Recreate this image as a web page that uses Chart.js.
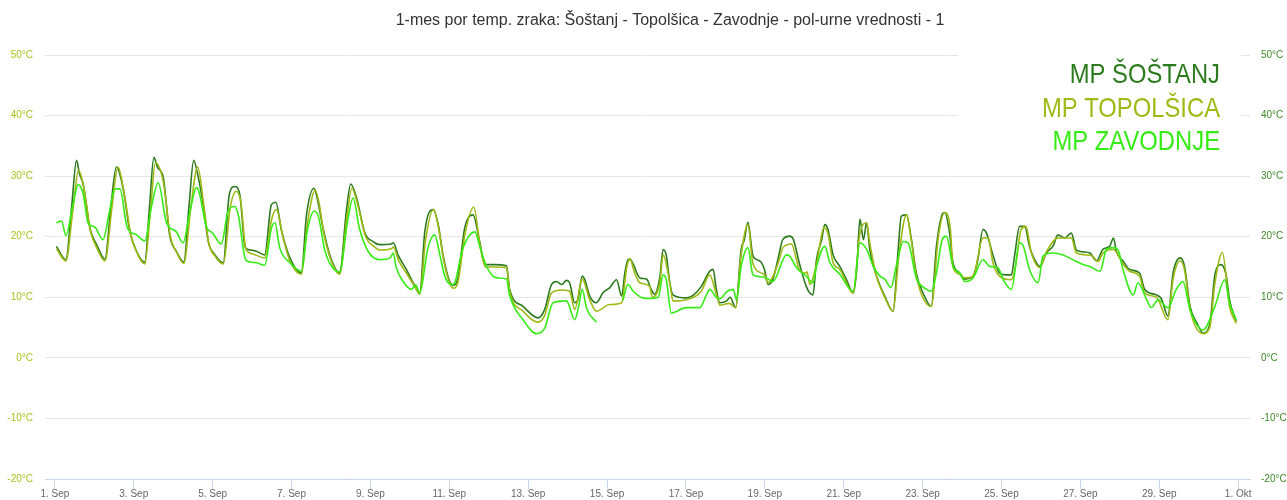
<!DOCTYPE html>
<html><head><meta charset="utf-8">
<script src="https://cdn.jsdelivr.net/npm/chart.js@4/dist/chart.umd.min.js"></script>
<style>html,body{margin:0;padding:0;background:#fff;}#wrap{width:1287px;height:500px;position:relative;}</style>
</head><body><div id="wrap"><canvas id="c" width="1287" height="500"></canvas></div>
<script>
const chartTitle = '1-mes por temp. zraka: Šoštanj - Topolšica - Zavodnje - pol-urne vrednosti - 1';
const seriesNames = ['MP ŠOŠTANJ', 'MP TOPOLŠICA', 'MP ZAVODNJE'];
const seriesColors = ['#2c7a1e', '#9fba14', '#35ec14'];
const xTickDays = [0, 2, 4, 6, 8, 10, 12, 14, 16, 18, 20, 22, 24, 26, 28, 30];
const xTickLabels = ['1. Sep', '3. Sep', '5. Sep', '7. Sep', '9. Sep', '11. Sep', '13. Sep', '15. Sep', '17. Sep', '19. Sep', '21. Sep', '23. Sep', '25. Sep', '27. Sep', '29. Sep', '1. Okt'];
const yTicks = [-20, -10, 0, 10, 20, 30, 40, 50];

// [day since 1. Sep 00:00, °C]
const sostanj = [[0.04,18.4],[0.28,16.2],[0.42,24.5],[0.55,32.6],[0.62,30.5],[0.72,28.6],[0.89,21.4],[1.06,18.7],[1.27,16.3],[1.42,25],[1.56,31.5],[1.73,28.0],[1.9,20.9],[2.07,17.6],[2.28,15.8],[2.4,25],[2.51,33.1],[2.6,31.5],[2.75,29.7],[2.91,20.3],[3.08,17.6],[3.27,15.8],[3.4,25],[3.52,32.6],[3.63,30.0],[3.76,25.3],[3.89,19.2],[4.06,17.0],[4.27,15.7],[4.42,26.9],[4.56,28.3],[4.69,26.9],[4.82,18.4],[4.9,17.9],[5.11,17.6],[5.32,17.0],[5.49,25.3],[5.6,25.7],[5.75,20.9],[5.96,16.5],[6.25,14.0],[6.38,23.6],[6.57,28.0],[6.65,26.4],[6.8,21.4],[6.97,17.0],[7.22,14.0],[7.39,24.2],[7.5,28.7],[7.65,26.4],[7.86,20.6],[8.07,19.2],[8.24,18.7],[8.53,18.8],[8.58,19.0],[8.7,17.0],[8.91,14.6],[9.13,11.8],[9.25,10.7],[9.38,20.9],[9.59,24.5],[9.72,22.0],[9.84,17.0],[10.01,12.6],[10.1,12.0],[10.22,13.2],[10.39,21.4],[10.6,23.6],[10.77,19.2],[10.9,15.4],[11.15,15.4],[11.45,15.2],[11.53,11.3],[11.87,8.5],[12.25,6.6],[12.42,8.0],[12.59,12.1],[12.72,12.6],[12.85,12.1],[12.97,12.8],[13.05,12.4],[13.18,9.1],[13.26,9.6],[13.37,13.5],[13.43,13.0],[13.56,10.2],[13.73,9.1],[13.9,10.8],[14.07,11.6],[14.24,12.9],[14.37,10.2],[14.45,14.0],[14.53,16.2],[14.58,16.3],[14.66,15.5],[14.83,13.2],[15.0,13.0],[15.12,11.3],[15.2,10.5],[15.34,13.4],[15.42,17.9],[15.5,17.0],[15.59,12.4],[15.67,10.4],[16.01,9.9],[16.18,10.3],[16.39,11.8],[16.6,14.3],[16.69,14.6],[16.77,11.3],[16.86,9.1],[17.03,9.4],[17.12,10.0],[17.26,8.3],[17.4,17.9],[17.48,19.5],[17.57,22.4],[17.7,16.8],[17.87,16.0],[17.99,14.6],[18.08,12.1],[18.2,12.9],[18.33,16.2],[18.46,19.6],[18.63,20.1],[18.72,19.6],[18.88,15.5],[19.05,11.8],[19.14,10.7],[19.22,10.4],[19.31,16.2],[19.44,19.5],[19.52,22.0],[19.6,21.2],[19.73,17.0],[19.9,15.1],[20.07,12.9],[20.24,10.7],[20.33,14.6],[20.41,22.9],[20.5,19.5],[20.58,22.3],[20.66,17.9],[20.83,13.5],[21.04,10.2],[21.25,7.7],[21.38,17.9],[21.46,23.4],[21.59,23.6],[21.71,19.8],[21.84,14.0],[22.01,10.7],[22.22,8.5],[22.35,18.4],[22.48,23.4],[22.56,24.0],[22.67,21.2],[22.77,15.7],[22.94,14.0],[23.07,13.0],[23.28,13.5],[23.4,16.2],[23.53,21.2],[23.62,20.6],[23.79,16.8],[23.95,14.0],[24.12,13.7],[24.25,13.7],[24.33,16.8],[24.46,21.7],[24.59,21.7],[24.71,18.4],[24.84,16.2],[24.97,15.1],[25.14,17.3],[25.31,18.5],[25.43,20.3],[25.6,19.8],[25.77,20.6],[25.9,17.8],[26.07,17.5],[26.24,17.3],[26.41,16.0],[26.57,17.9],[26.74,18.4],[26.84,19.8],[26.91,17.6],[27.08,16.0],[27.25,14.6],[27.5,14.0],[27.63,11.3],[27.93,10.4],[28.05,9.8],[28.22,6.9],[28.35,14.0],[28.53,16.5],[28.64,15.1],[28.78,8.5],[28.95,5.8],[29.11,4.1],[29.28,5.5],[29.41,13.7],[29.57,15.4],[29.7,13.5],[29.78,9.6],[29.95,6.0]];

const topolsica = [[0.04,18.0],[0.28,16.0],[0.45,24],[0.6,31.0],[0.75,27.5],[0.9,21.0],[1.06,18.2],[1.27,16.0],[1.45,25],[1.6,31.5],[1.75,27.5],[1.92,20.5],[2.07,17.5],[2.28,15.5],[2.42,24],[2.55,32.2],[2.75,29],[2.93,20.0],[3.08,17.5],[3.27,15.6],[3.45,25],[3.62,31.5],[3.78,25],[3.9,19.0],[4.06,16.8],[4.27,15.5],[4.45,25],[4.6,27.5],[4.72,25.5],[4.84,18.0],[5.0,17.2],[5.32,16.5],[5.5,23],[5.62,24.5],[5.78,20.0],[5.96,16.0],[6.25,13.8],[6.4,22],[6.6,27.7],[6.7,25.5],[6.82,20.5],[6.98,16.5],[7.22,13.8],[7.4,23],[7.53,28.0],[7.67,25.5],[7.88,20.0],[8.07,18.5],[8.24,17.8],[8.53,18.0],[8.58,18.3],[8.72,16.0],[8.93,13.8],[9.15,11.5],[9.25,10.5],[9.4,19.5],[9.6,24.5],[9.74,21.0],[9.86,16.0],[10.03,12.0],[10.12,11.5],[10.22,12.5],[10.4,20.5],[10.62,24.9],[10.78,18.5],[10.92,15.0],[11.15,15.0],[11.45,14.9],[11.53,11.0],[11.87,7.7],[12.25,5.9],[12.42,7.0],[12.59,10.7],[12.85,11.2],[13.05,11.0],[13.18,8.0],[13.37,13.0],[13.56,9.6],[13.73,7.7],[14.07,8.8],[14.37,9.1],[14.5,15],[14.58,16.3],[14.7,14],[14.83,12.4],[15.08,11.8],[15.15,10.0],[15.34,12.5],[15.42,17.0],[15.6,12],[15.67,9.4],[16.01,9.6],[16.39,11.0],[16.6,13.7],[16.77,10.5],[16.86,8.7],[17.1,9.0],[17.26,8.3],[17.4,17],[17.57,22.0],[17.7,15.5],[17.99,13.7],[18.08,12.4],[18.33,15.5],[18.46,18.2],[18.67,18.8],[18.88,14.5],[19.05,14.0],[19.07,14.2],[19.14,12.1],[19.31,15.5],[19.5,21.5],[19.6,20.5],[19.73,15.7],[19.9,14.6],[20.24,10.7],[20.41,20.5],[20.58,22.3],[20.66,19.0],[20.83,13.5],[21.04,10.0],[21.25,7.7],[21.4,17],[21.59,23.6],[21.71,19.5],[21.84,13.5],[22.22,8.5],[22.4,20],[22.56,24.0],[22.7,21.5],[22.77,15.0],[22.94,13.8],[23.07,13.2],[23.28,13.5],[23.53,19.8],[23.66,19.8],[23.79,15.5],[23.95,13.5],[24.25,12.9],[24.35,15],[24.5,21.2],[24.62,21.7],[24.75,17.5],[24.97,14.9],[25.14,17.5],[25.43,19.8],[25.77,19.8],[25.9,17.3],[26.28,16.9],[26.45,15.9],[26.57,17.3],[26.84,17.9],[27.08,15.5],[27.25,14.3],[27.5,13.5],[27.63,10.7],[27.93,10.0],[28.22,6.3],[28.35,13],[28.53,16.0],[28.64,14.5],[28.78,8.0],[29.11,4.0],[29.28,5.0],[29.41,12.3],[29.6,17.4],[29.78,8.5],[29.95,5.7]];

const zavodnje = [[0.04,22.3],[0.17,22.6],[0.28,20.2],[0.45,25],[0.59,28.6],[0.72,27.0],[0.84,22.3],[1.01,21.6],[1.22,19.5],[1.38,24],[1.52,27.9],[1.65,27.9],[1.83,21.6],[2.07,20.3],[2.28,19.3],[2.45,25],[2.62,28.9],[2.83,22.3],[3.08,20.8],[3.25,19.0],[3.42,24],[3.59,28.1],[3.65,27.5],[3.84,21.7],[4.0,20.6],[4.22,18.8],[4.39,24.2],[4.56,25.0],[4.65,23.6],[4.82,16.5],[4.9,15.9],[5.11,15.7],[5.32,15.3],[5.49,21.4],[5.58,22.3],[5.7,18.2],[5.96,15.7],[6.25,14.3],[6.4,21],[6.57,24.2],[6.68,23.4],[6.85,17.6],[7.22,14.2],[7.42,22.5],[7.56,26.4],[7.72,21.4],[7.94,17.6],[8.24,16.2],[8.5,16.5],[8.58,17.3],[8.65,15],[8.83,12.6],[9.04,11.3],[9.15,12.0],[9.25,10.7],[9.46,18.2],[9.63,20.3],[9.76,17.0],[9.9,13.2],[10.1,12.1],[10.35,18.2],[10.65,20.8],[10.78,18.2],[10.95,15.0],[11.2,13.2],[11.45,13.0],[11.53,10.3],[11.87,6.3],[12.21,4.0],[12.42,4.9],[12.63,9.1],[12.97,9.4],[13.18,6.3],[13.28,8.5],[13.37,11.3],[13.48,8.2],[13.73,5.9],[13.9,null],[14.4,9.5],[14.53,12.1],[14.66,11.0],[14.91,9.9],[15.08,9.8],[15.3,10.0],[15.42,13.7],[15.5,12.9],[15.63,7.4],[16.01,8.3],[16.35,8.3],[16.52,10.4],[16.6,11.3],[16.77,10.0],[16.86,9.8],[17.05,11.0],[17.2,11.3],[17.28,9.6],[17.4,15.1],[17.57,18.2],[17.7,13.7],[17.87,13.4],[18.04,13.2],[18.2,12.6],[18.55,17.0],[18.63,16.8],[18.8,14.9],[19.05,13.5],[19.22,12.4],[19.31,15.1],[19.52,18.4],[19.65,15.7],[19.9,13.8],[20.24,11.0],[20.41,19.0],[20.58,17.9],[20.75,15.1],[20.92,13.5],[21.04,13.0],[21.2,11.6],[21.33,15.1],[21.51,19.2],[21.63,19.0],[21.84,13.2],[22.1,11.3],[22.22,11.0],[22.35,14.0],[22.5,19.6],[22.6,20.1],[22.77,15.1],[22.94,14.0],[23.07,12.6],[23.28,13.2],[23.53,16.2],[23.7,15.1],[23.9,14.9],[24.07,12.6],[24.25,11.3],[24.46,19.0],[24.55,18.5],[24.71,14.6],[24.93,12.4],[25.05,16.8],[25.31,17.3],[25.56,17.0],[25.81,16.2],[26.07,15.4],[26.24,15.1],[26.5,14.3],[26.66,17.9],[26.82,18.2],[26.95,17.9],[27.08,14.6],[27.34,10.4],[27.46,12.4],[27.68,9.6],[27.8,8.3],[27.97,9.6],[28.22,8.3],[28.43,11.3],[28.6,12.6],[28.78,7.9],[29.11,4.6],[29.41,8.5],[29.66,12.9],[29.78,9.1],[29.95,6.3]];

const toXY = arr => arr.map(p => ({x: p[0], y: p[1]}));

const overlay = {
  id: 'overlay',
  afterDraw(chart) {
    const ctx = chart.ctx;
    ctx.save();
    ctx.fillStyle = '#ffffff';
    ctx.fillRect(958, 45, 283, 120);
    ctx.textAlign = 'right';
    ctx.textBaseline = 'alphabetic';
    ctx.font = '28px "Liberation Sans", Arial, sans-serif';
    const baselines = [83, 117, 150];
    seriesNames.forEach((n, i) => {
      ctx.save();
      ctx.translate(1220, baselines[i]);
      ctx.scale(0.85, 1);
      ctx.fillStyle = seriesColors[i];
      ctx.fillText(n, 0, 0);
      ctx.restore();
    });
    ctx.fillStyle = '#333333';
    ctx.textAlign = 'center';
    ctx.textBaseline = 'middle';
    ctx.font = '16px "Liberation Sans", Arial, sans-serif';
    ctx.fillText(chartTitle, 670, 21);
    ctx.restore();
  }
};

new Chart(document.getElementById('c'), {
  type: 'line',
  data: {
    datasets: [
      {label: seriesNames[2], data: toXY(zavodnje), borderColor: seriesColors[2], yAxisID: 'y'},
      {label: seriesNames[1], data: toXY(topolsica), borderColor: seriesColors[1], yAxisID: 'y'},
      {label: seriesNames[0], data: toXY(sostanj), borderColor: seriesColors[0], yAxisID: 'y'}
    ].map(d => Object.assign(d, {borderWidth: 1.6, pointRadius: 0, cubicInterpolationMode: 'monotone', fill: false, spanGaps: false}))
  },
  options: {
    responsive: false,
    animation: false,
    devicePixelRatio: 1,
    layout: {padding: {top: 55, left: 0, right: 0, bottom: 0}},
    plugins: {legend: {display: false}, tooltip: {enabled: false}, title: {display: false}},
    scales: {
      x: {
        type: 'linear', min: -0.25, max: 30.3,
        afterBuildTicks: s => { s.ticks = xTickDays.map(v => ({value: v})); },
        afterFit: s => { s.height = 21; },
        ticks: {
          autoSkip: false, maxRotation: 0, padding: -1,
          color: '#666666', font: {size: 10, family: '"Liberation Sans", Arial, sans-serif'},
          callback: v => xTickLabels[xTickDays.indexOf(v)]
        },
        grid: {drawOnChartArea: false, drawTicks: true, tickLength: 10, color: '#ccd6eb'},
        border: {display: true, color: '#ccd6eb'}
      },
      y: {
        position: 'left', min: -20, max: 50,
        afterBuildTicks: s => { s.ticks = yTicks.map(v => ({value: v})); },
        afterFit: s => { s.width = 45; },
        ticks: {color: '#a6c21e', padding: 12, font: {size: 10, family: '"Liberation Sans", Arial, sans-serif'}, callback: v => v + '°C'},
        grid: {color: '#e6e6e6', drawTicks: false},
        border: {display: false}
      },
      y2: {
        position: 'right', min: -20, max: 50,
        afterBuildTicks: s => { s.ticks = yTicks.map(v => ({value: v})); },
        afterFit: s => { s.width = 37; },
        ticks: {color: '#3f8a2a', padding: 11, font: {size: 10, family: '"Liberation Sans", Arial, sans-serif'}, callback: v => v + '°C'},
        grid: {drawOnChartArea: false, drawTicks: false},
        border: {display: false}
      }
    }
  },
  plugins: [overlay]
});
</script></body></html>
